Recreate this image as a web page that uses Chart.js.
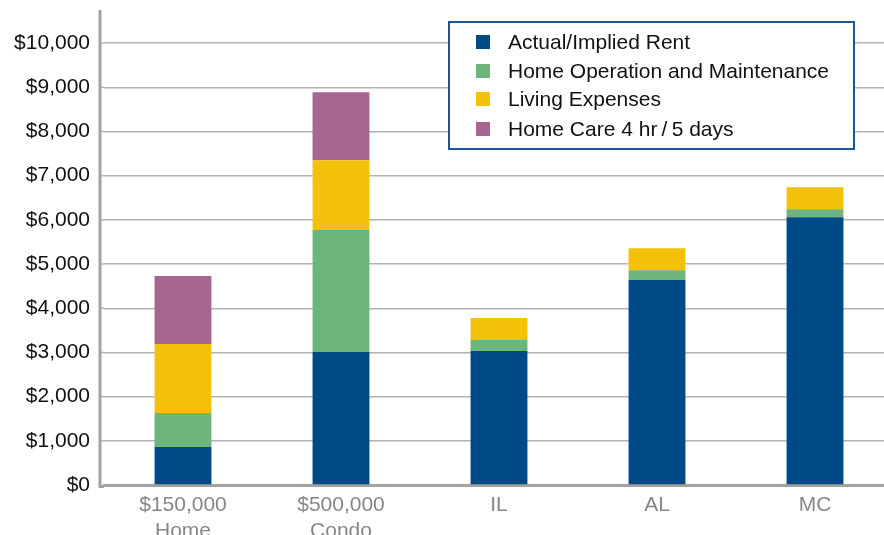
<!DOCTYPE html>
<html>
<head>
<meta charset="utf-8">
<script src="https://cdn.jsdelivr.net/npm/chart.js@4"></script>
<style>
  html, body { margin: 0; padding: 0; background: #fff; overflow: hidden; }
  #wrap { width: 896px; height: 535px; position: relative; }
</style>
</head>
<body>
<div id="wrap"><canvas id="myChart"></canvas></div>
<script>
// categories (two-line labels)
const categories = [['$150,000', 'Home'], ['$500,000', 'Condo'], 'IL', 'AL', 'MC'];

// monthly cost per component
const rent = [860, 3010, 3030, 4640, 6060];
const operation = [770, 2760, 250, 220, 180];
const living = [1560, 1580, 500, 500, 500];
const homeCare = [1540, 1540, 0, 0, 0];

const seriesNames = ['Actual/Implied Rent', 'Home Operation and Maintenance', 'Living Expenses', 'Home Care 4 hr\u2009/\u20095 days'];
const seriesColors = ['#004a87', '#6db57a', '#f3c10a', '#a6668f'];

const yTicks = [0, 1000, 2000, 3000, 4000, 5000, 6000, 7000, 8000, 9000, 10000];

const fontFamily = '"Liberation Sans", Arial, Helvetica, sans-serif';
const axisGray = '#a3a3a3';
const gridGray = '#b3b3b3';

// y axis line sits a few px left of the plot, gridlines run up to it
const axisLine = {
    id: 'axisLine',
    beforeDatasetsDraw(chart) {
        const ctx = chart.ctx;
        const a = chart.chartArea;
        const y = chart.scales.y;
        const ax = a.left - 4;
        ctx.save();
        ctx.strokeStyle = gridGray;
        ctx.lineWidth = 1.5;
        yTicks.forEach(v => {
            if (v === 0) return;
            const py = y.getPixelForValue(v);
            ctx.beginPath();
            ctx.moveTo(ax, py);
            ctx.lineTo(a.left, py);
            ctx.stroke();
        });
        ctx.strokeStyle = axisGray;
        ctx.lineWidth = 3;
        ctx.beginPath();
        ctx.moveTo(ax, a.bottom + 1.5);
        ctx.lineTo(a.left, a.bottom + 1.5);
        ctx.stroke();
        ctx.beginPath();
        ctx.moveTo(ax, a.top);
        ctx.lineTo(ax, a.bottom + 3);
        ctx.stroke();
        ctx.restore();
    }
};

// boxed legend drawn inside the plot
const boxLegend = {
    id: 'boxLegend',
    afterDraw(chart) {
        const ctx = chart.ctx;
        ctx.save();
        ctx.fillStyle = '#fff';
        ctx.fillRect(448, 21, 407, 129);
        ctx.strokeStyle = '#1f5591';
        ctx.lineWidth = 2;
        ctx.strokeRect(449, 22, 405, 127);
        ctx.font = '21px ' + fontFamily;
        ctx.textBaseline = 'middle';
        const rows = [42, 71, 99, 129];
        chart.data.datasets.forEach((ds, i) => {
            ctx.fillStyle = ds.backgroundColor;
            ctx.fillRect(476, rows[i] - 7, 14, 14);
            ctx.fillStyle = '#111';
            ctx.fillText(ds.label, 508, rows[i] + 1);
        });
        ctx.restore();
    }
};

const ctx = document.getElementById('myChart').getContext('2d');
const dataRows = [rent, operation, living, homeCare];

const chart = new Chart(ctx, {
    type: 'bar',
    data: {
        labels: categories,
        datasets: dataRows.map((d, i) => ({
            label: seriesNames[i],
            data: d,
            backgroundColor: seriesColors[i],
            barPercentage: 0.36,
            categoryPercentage: 1
        }))
    },
    options: {
        responsive: true,
        maintainAspectRatio: false,
        animation: false,
        layout: { padding: { top: 10, right: 2, left: 0, bottom: 0 } },
        plugins: {
            legend: { display: false },
            tooltip: { enabled: false }
        },
        scales: {
            x: {
                stacked: true,
                grid: { display: false, drawTicks: false },
                border: { color: axisGray, width: 3 },
                ticks: {
                    color: '#878787',
                    padding: 8,
                    maxRotation: 0,
                    autoSkip: false,
                    font: { family: fontFamily, size: 21, lineHeight: 1.2 }
                },
                afterFit(scale) { scale.height = 50; }
            },
            y: {
                stacked: true,
                min: 0,
                max: 10750,
                afterBuildTicks(axis) {
                    axis.ticks = yTicks.map(v => ({ value: v }));
                },
                grid: { color: gridGray, lineWidth: 1.5, drawTicks: false },
                border: { display: false },
                ticks: {
                    color: '#111',
                    padding: 14,
                    font: { family: fontFamily, size: 21 },
                    callback: v => '$' + v.toLocaleString('en-US')
                },
                afterFit(scale) {
                    scale.width = 104;
                    scale.paddingTop = 0;
                    scale.paddingBottom = 0;
                }
            }
        }
    },
    plugins: [axisLine, boxLegend]
});
</script>
</body>
</html>
